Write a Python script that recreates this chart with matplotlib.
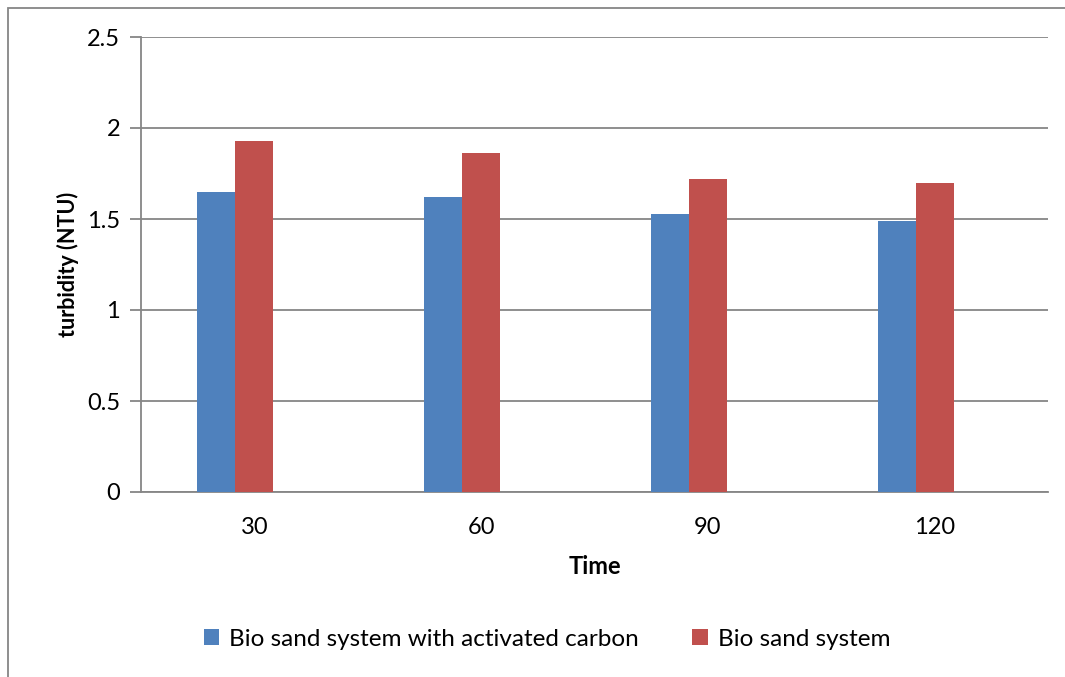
import matplotlib
matplotlib.use("Agg")
import matplotlib.pyplot as plt
from matplotlib.patches import Rectangle
import numpy as np

plt.rcParams['font.family'] = ['Lato', 'DejaVu Sans']

times = ["30", "60", "90", "120"]
with_carbon = [1.65, 1.62, 1.53, 1.49]
bio_sand = [1.93, 1.86, 1.72, 1.70]
y_ticks = [0, 0.5, 1, 1.5, 2, 2.5]

blue = "#4f81bd"
red = "#c0504d"
grey = "#868686"

fig = plt.figure(figsize=(10.65, 6.77), dpi=100)
ax = fig.add_axes([141 / 1065, 1 - 492 / 677, (1048 - 141) / 1065, (492 - 37) / 677])

# outer chart border (only left/top visible in reference)
fig.patches.append(Rectangle((8 / 1065, -0.1), 1.2, (677 - 8) / 677 + 0.1,
                             transform=fig.transFigure, fill=False,
                             edgecolor=grey, linewidth=1.3))

x = np.arange(len(times))
w = 0.1676
# excel cluster of three slots, third slot empty
ax.bar(x - w, with_carbon, w, color=blue, label="Bio sand system with activated carbon", zorder=3)
ax.bar(x, bio_sand, w, color=red, label="Bio sand system", zorder=3)

ax.set_xlim(-0.5, len(times) - 0.5)
ax.set_ylim(0, 2.5)
ax.set_yticks(y_ticks)
ax.set_yticklabels(["0", "0.5", "1", "1.5", "2", "2.5"])
ax.set_xticks(x)
ax.set_xticklabels(times)
ax.yaxis.grid(True, color=grey, linewidth=1.3, zorder=0)
ax.set_axisbelow(True)

for s in ["top", "right"]:
    ax.spines[s].set_visible(False)
for s in ["left", "bottom"]:
    ax.spines[s].set_color(grey)
    ax.spines[s].set_linewidth(1.3)

ax.tick_params(axis="y", length=8, color=grey, width=1.3, labelsize=17, pad=7)
ax.tick_params(axis="x", length=0, labelsize=17, pad=18)

ax.set_xlabel("Time", fontsize=17, fontweight="bold", labelpad=12)
ax.set_ylabel("turbidity (NTU)", fontsize=15.5, fontweight="bold", labelpad=6)

fig.legend(loc="center", bbox_to_anchor=(547 / 1065, 1 - 639 / 677), ncol=2,
           frameon=False, fontsize=17.5, handlelength=0.65, handleheight=0.65,
           handletextpad=0.4, columnspacing=2.2)

fig.savefig("out.png", dpi=100)
